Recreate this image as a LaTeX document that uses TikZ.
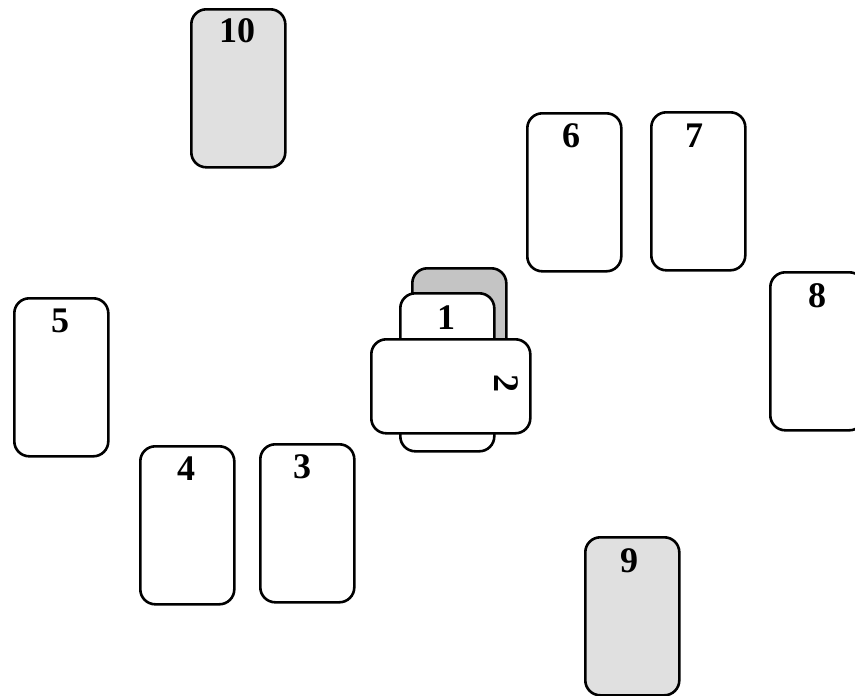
\documentclass[tikz,border=0pt]{standalone}
\usepackage{fontspec}
\setmainfont{Liberation Serif}
\begin{document}
\begin{tikzpicture}[x=1pt,y=-1pt,
  card/.style={draw=black, line width=2.6pt, rounded corners=15pt, fill=white, anchor=north west, inner sep=0pt, minimum width=94pt, minimum height=158pt},
  hcard/.style={card, minimum width=159pt, minimum height=94pt},
  graycard/.style={card, fill=cardgray},
  backcard/.style={card, fill=backgray},
  num/.style={font=\fontsize{36}{36}\selectfont\bfseries, inner sep=0pt}]
\definecolor{cardgray}{HTML}{E0E0E0}
\definecolor{backgray}{HTML}{C4C4C4}
\useasboundingbox (0,0) rectangle (855,696);
\clip (0,0) rectangle (855,696);
\node[graycard] (c10) at (190,8) {};
\node[num] (l10) at (237,31) {10};
\node[card] (c6) at (526,112) {};
\node[num] (l6) at (571,136) {6};
\node[card] (c7) at (650,111) {};
\node[num] (l7) at (694,136) {7};
\node[card] (c8) at (769,271) {};
\node[num] (l8) at (817,296) {8};
\node[card] (c5) at (13,297) {};
\node[num] (l5) at (60,321) {5};
\node[card] (c4) at (139,445) {};
\node[num] (l4) at (186,469) {4};
\node[card] (c3) at (259,443) {};
\node[num] (l3) at (302,467) {3};
\node[graycard] (c9) at (584,536) {};
\node[num] (l9) at (629,561) {9};
\node[backcard] (cb) at (411,267) {};
\node[card] (c1) at (399,292) {};
\node[num] (l1) at (446,318) {1};
\node[hcard] (c2) at (370,338) {};
\node[num, rotate=-90] (l2) at (506,383) {2};
\end{tikzpicture}
\end{document}
